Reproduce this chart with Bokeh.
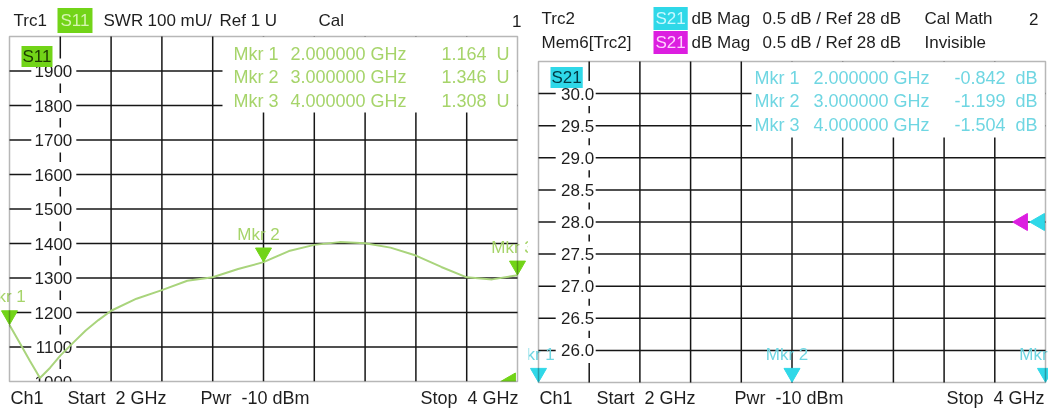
from bokeh.plotting import figure
from bokeh.models import Label, LabelSet, ColumnDataSource, BoxAnnotation
from bokeh.layouts import row
from bokeh.embed import file_html
from bokeh.resources import INLINE
from bokeh.core.properties import value

# ---------------- data ----------------
freq_ghz = [2.00, 2.04, 2.08, 2.12, 2.16, 2.20, 2.25, 2.30, 2.35, 2.40, 2.50, 2.60, 2.70,
            2.80, 2.90, 3.00, 3.10, 3.20, 3.30, 3.40, 3.50, 3.60, 3.70, 3.80, 3.90, 4.00]
swr_mU = [1164, 1112, 1060, 1010, 1040, 1075, 1112, 1148, 1178, 1205, 1240, 1265, 1292,
          1302, 1326, 1346, 1378, 1396, 1404, 1401, 1388, 1365, 1332, 1302, 1296, 1308]
mkr_names = ["Mkr 1", "Mkr 2", "Mkr 3"]
mkr_freq_ghz = [2.0, 3.0, 4.0]
s11_mkr_U = [1.164, 1.346, 1.308]
s21_mkr_dB = [-0.842, -1.199, -1.504]
s11_ticks = [1000, 1100, 1200, 1300, 1400, 1500, 1600, 1700, 1800, 1900]
s11_tick_labels = ["1000", "1100", "1200", "1300", "1400", "1500", "1600", "1700", "1800", "1900"]
s21_ticks = [26.0, 26.5, 27.0, 27.5, 28.0, 28.5, 29.0, 29.5, 30.0]
s21_tick_labels = ["26.0", "26.5", "27.0", "27.5", "28.0", "28.5", "29.0", "29.5", "30.0"]
s11_range = (1000, 2000)
s21_range = (25.5, 30.5)
f_range = (2.0, 4.0)
s11_ref = 1000
s21_ref = 28.0

FONT = "Liberation Sans"
GREEN = "#72d418"
GREEN_TXT = "#a6d46a"
TRACE = "#a9d47c"
CYAN = "#2fd8e8"
CYAN_TXT = "#6fd6e2"
MAGENTA = "#dc1ee0"
INK = "#1e1e1e"
GRID = "#161616"
SP2 = "\u00a0\u00a0"

# diagram geometry in page pixels (canvas of each figure starts at ox)
LF = dict(ox=0, left=9, top=36, right=517, bottom=381, w=528)
RF = dict(ox=528, left=538, top=61, right=1045, bottom=382, w=520)
H = 410


def ppx(F):
    return (F["right"] - F["left"]) / (f_range[1] - f_range[0])


def ppy(F, yr):
    return (F["bottom"] - F["top"]) / (yr[1] - yr[0])


def make_fig(F, yr):
    kx, ky = ppx(F), ppy(F, yr)
    xr = (f_range[0] - (F["left"] - F["ox"]) / kx, f_range[1] + (F["ox"] + F["w"] - F["right"]) / kx)
    yrr = (yr[0] - (H - F["bottom"]) / ky, yr[1] + F["top"] / ky)
    p = figure(width=F["w"], height=H, x_range=xr, y_range=yrr,
               min_border_left=0, min_border_right=0, min_border_top=0, min_border_bottom=0,
               x_axis_location=None, y_axis_location=None, title=None,
               toolbar_location=None, output_backend="svg")
    p.outline_line_color = None
    p.background_fill_color = "white"
    p.border_fill_color = "white"
    p.xgrid.visible = False
    p.ygrid.visible = False
    # graticule: 10 x 10 divisions
    xs = [f_range[0] + i * (f_range[1] - f_range[0]) / 10 for i in range(1, 10)]
    ys = [yr[0] + i * (yr[1] - yr[0]) / 10 for i in range(1, 10)]
    p.segment(x0=xs, y0=[yr[0]] * len(xs), x1=xs, y1=[yr[1]] * len(xs),
              line_color=GRID, line_width=1.5)
    p.segment(x0=[f_range[0]] * len(ys), y0=ys, x1=[f_range[1]] * len(ys), y1=ys,
              line_color=GRID, line_width=1.5)
    return p


def put(p, F, X, Y, text, color=INK, size=17, align="left", bg=None, pad=0):
    kw = {}
    if bg is not None:
        kw = dict(background_fill_color=bg, background_fill_alpha=1.0, padding=pad)
    p.add_layout(Label(x=X - F["ox"], y=H - Y, x_units="screen", y_units="screen",
                       text=text, text_align=align, text_baseline="middle",
                       text_font=FONT, text_font_size=f"{size}px",
                       text_color=color, **kw))


def axis_labels(p, F, ticks, labels, bg_offset, bg_w, text_dx):
    ax = f_range[0] + (f_range[1] - f_range[0]) / 10
    p.rect(x=[ax + bg_offset / ppx(F)] * len(ticks), y=ticks, width=bg_w, height=25,
           width_units="screen", height_units="screen", fill_color="white", line_color=None)
    p.text(x=[ax] * len(ticks), y=ticks, text=labels, x_offset=text_dx,
           text_align="right", text_baseline="middle", text_font=value(FONT),
           text_font_size="17px", text_color=INK)


def marker_table(p, F, yr, vals, unit, col_color, dx_mkr, dx_freq, y0):
    p.add_layout(BoxAnnotation(left=f_range[0] + 213 / ppx(F), right=f_range[1],
                               top=yr[1], bottom=yr[1] - 76 / ppy(F, yr),
                               fill_color="white", fill_alpha=1.0, line_color=None))
    for i, (nm, f, v) in enumerate(zip(mkr_names, mkr_freq_ghz, vals)):
        Y = y0 + i * 23.7
        put(p, F, F["left"] + dx_mkr, Y, nm, col_color, 18)
        put(p, F, F["left"] + dx_freq, Y, f"{f:.6f} GHz", col_color, 18)
        put(p, F, F["right"] - 8, Y, f"{v:.3f}{SP2}{unit}", col_color, 18, align="right")


def frame_box(p, yr, bottom_mask):
    if bottom_mask:
        p.add_layout(BoxAnnotation(top=yr[0], fill_color="white", fill_alpha=1.0, line_color=None))
    p.add_layout(BoxAnnotation(left=f_range[0], right=f_range[1], bottom=yr[0], top=yr[1],
                               fill_alpha=0.0, line_color="#111111", line_width=1.5))


def footer(p, F, x_ch, x_start, x_pwr, x_stop):
    put(p, F, x_ch, 397, "Ch1", size=18)
    put(p, F, x_start, 397, f"Start{SP2}2 GHz", size=18)
    put(p, F, x_pwr, 397, f"Pwr{SP2}-10 dBm", size=18)
    put(p, F, x_stop, 397, f"Stop{SP2}4 GHz", size=18, align="right")


# ================= left panel: S11 SWR =================
p1 = make_fig(LF, s11_range)
axis_labels(p1, LF, s11_ticks, s11_tick_labels, -6.5, 45, 12)
p1.line(freq_ghz, swr_mU, line_color=TRACE, line_width=2)

mkr_y = [v * 1000 for v in s11_mkr_U]
tri_up = 9.5 / ppy(LF, s11_range)
p1.scatter(mkr_freq_ghz, [y + tri_up for y in mkr_y], marker="inverted_triangle",
           size=16, fill_color=GREEN, line_color=GREEN)
p1.scatter([f_range[1] - 7 / ppx(LF)], [s11_ref], marker="triangle", angle=1.5708,
           size=17, fill_color=GREEN, line_color=GREEN)
marker_table(p1, LF, s11_range, s11_mkr_U, "U", GREEN_TXT, 224, 281, 53)
src1 = ColumnDataSource(dict(x=mkr_freq_ghz, y=mkr_y, t=mkr_names))
p1.add_layout(LabelSet(x="x", y="y", text="t", source=src1, x_offset=-5, y_offset=28,
                       text_align="center", text_baseline="middle", text_font=value(FONT),
                       text_font_size="17px", text_color=GREEN_TXT))
frame_box(p1, s11_range, True)

put(p1, LF, 21, 56, "S11", "#1c3a00", 17, bg=GREEN, pad=1)
put(p1, LF, 13, 20, "Trc1")
put(p1, LF, 57, 20, "S11", "#d6f5b0", 17, bg=GREEN, pad=3)
put(p1, LF, 103, 20, "SWR")
put(p1, LF, 147, 20, "100 mU/")
put(p1, LF, 219, 20, "Ref 1 U")
put(p1, LF, 318, 20, "Cal")
put(p1, LF, 521, 20, "1", align="right")
footer(p1, LF, 10, 67, 200, 518)

# ================= right panel: S21 dB Mag =================
p2 = make_fig(RF, s21_range)
axis_labels(p2, RF, s21_ticks, s21_tick_labels, -13.5, 40, 5)

# off-scale values are pinned to the bottom edge
mkr_y2 = [max(v, s21_range[0]) for v in s21_mkr_dB]
tri_up2 = 9.5 / ppy(RF, s21_range)
p2.scatter(mkr_freq_ghz, [y + tri_up2 for y in mkr_y2], marker="inverted_triangle",
           size=16, fill_color=CYAN, line_color=CYAN)
p2.scatter([f_range[1] - 23 / ppx(RF), f_range[1] - 6 / ppx(RF)], [s21_ref, s21_ref],
           marker="triangle", angle=1.5708, size=17,
           fill_color=[MAGENTA, CYAN], line_color=[MAGENTA, CYAN])
marker_table(p2, RF, s21_range, s21_mkr_dB, "dB", CYAN_TXT, 216, 275, 77)
src2 = ColumnDataSource(dict(x=mkr_freq_ghz, y=mkr_y2, t=mkr_names))
p2.add_layout(LabelSet(x="x", y="y", text="t", source=src2, x_offset=-5, y_offset=28,
                       text_align="center", text_baseline="middle", text_font=value(FONT),
                       text_font_size="17px", text_color=CYAN_TXT))
frame_box(p2, s21_range, False)

put(p2, RF, 550, 77, "S21", "#003a44", 17, bg=CYAN, pad=1)
put(p2, RF, 541, 18, "Trc2")
put(p2, RF, 653, 18, "S21", "#c8f8ff", 17, bg=CYAN, pad=2)
put(p2, RF, 691, 18, "dB Mag")
put(p2, RF, 762, 18, "0.5 dB /")
put(p2, RF, 825, 18, "Ref 28 dB")
put(p2, RF, 924, 18, "Cal Math")
put(p2, RF, 1038, 18, "2", align="right")
put(p2, RF, 541, 42, "Mem6[Trc2]")
put(p2, RF, 653, 42, "S21", "#ffd0ff", 17, bg=MAGENTA, pad=2)
put(p2, RF, 691, 42, "dB Mag")
put(p2, RF, 762, 42, "0.5 dB /")
put(p2, RF, 825, 42, "Ref 28 dB")
put(p2, RF, 924, 42, "Invisible")
footer(p2, RF, 539, 596, 734, 1044)

layout = row(p1, p2)
layout.styles = {"position": "fixed", "left": "0px", "top": "0px"}

open("out.html", "w").write(file_html(layout, INLINE))
